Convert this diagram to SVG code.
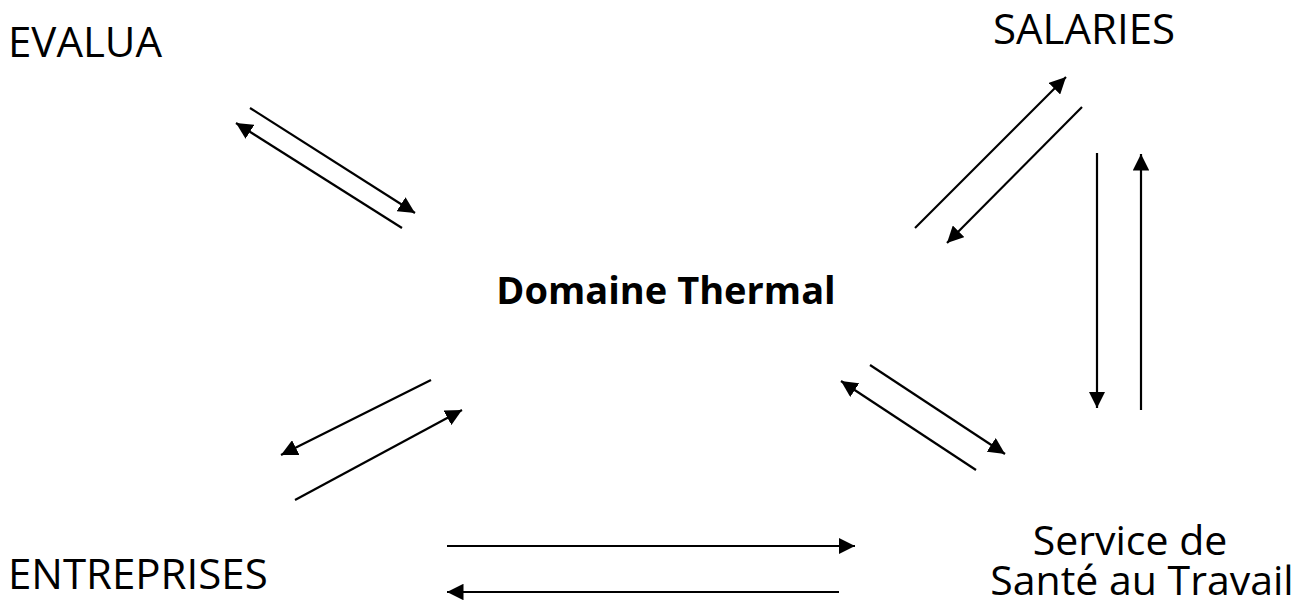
<svg xmlns="http://www.w3.org/2000/svg" width="1305" height="601" viewBox="0 0 1305 601">
<style>
text{font-family:"Open Sans","Noto Sans",sans-serif;font-size:42px;fill:#000}
.b{font-weight:bold;font-size:38px}
.s{font-size:41px}
line{stroke:#000;stroke-width:2.2;marker-end:url(#ah)}
</style>
<defs>
<marker id="ah" viewBox="0 0 10 10" refX="10" refY="5" markerWidth="7.5" markerHeight="7.5" markerUnits="strokeWidth" orient="auto">
<path d="M0,0L10,5L0,10z" fill="#000"/>
</marker>
</defs>
<rect width="1305" height="601" fill="#fff"/>
<g id="evalua"><text x="8" y="57">EVALUA</text></g>
<g id="salaries"><text x="993" y="44">SALARIES</text></g>
<g id="domaine"><text class="b" x="666" y="304" text-anchor="middle">Domaine Thermal</text></g>
<g id="entreprises"><text x="8" y="589">ENTREPRISES</text></g>
<g id="sst"><text class="s" x="1130" y="555" text-anchor="middle">Service de</text><text class="s" x="1142" y="595" text-anchor="middle">Santé au Travail</text></g>
<g id="connectors">
<line x1="250" y1="108" x2="415" y2="213"/>
<line x1="402" y1="228" x2="236" y2="123"/>
<line x1="915" y1="228" x2="1066" y2="77"/>
<line x1="1082" y1="107" x2="947" y2="243"/>
<line x1="1097" y1="153" x2="1097" y2="408"/>
<line x1="1141" y1="410" x2="1141" y2="154"/>
<line x1="431" y1="380" x2="281" y2="455"/>
<line x1="295" y1="500" x2="462" y2="410"/>
<line x1="870" y1="365" x2="1005" y2="454"/>
<line x1="976" y1="470" x2="841" y2="381"/>
<line x1="447" y1="546" x2="855" y2="546"/>
<line x1="839" y1="592" x2="447" y2="592"/>
</g>
</svg>
